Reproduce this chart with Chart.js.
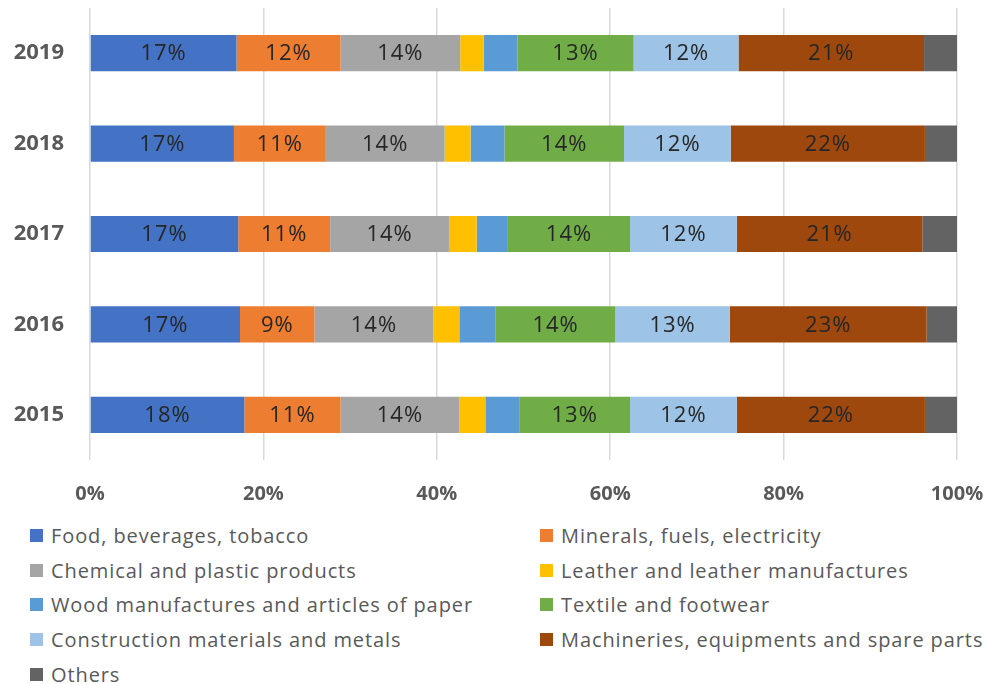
<!DOCTYPE html>
<html>
<head>
<meta charset="utf-8">
<script src="https://cdn.jsdelivr.net/npm/chart.js@4"></script>
<style>
    body { margin: 0; background: #fff; font-family: 'Open Sans', sans-serif; }
    #wrap { position: relative; width: 994px; height: 684px; }
    #chartBox { position: absolute; left: 0; top: 0; width: 994px; height: 504px; }
    #legend {
        position: absolute; left: 30px; top: 518px;
        display: grid; grid-template-columns: 510px 440px;
        grid-auto-rows: 34.7px; align-items: center;
    }
    .item { display: flex; align-items: center; color: #595959; font-size: 20px; letter-spacing: 0.9px; white-space: nowrap; }
    .box { width: 13px; height: 13px; margin-right: 8px; flex: none; }
</style>
</head>
<body>
<div id="wrap">
    <div id="chartBox"><canvas id="shareChart"></canvas></div>
    <div id="legend"></div>
</div>
<script>
// Data (top row first: 2019 -> 2015), shares in %
const years = ['2019', '2018', '2017', '2016', '2015'];
const food         = [16.9, 16.6, 17.1, 17.3, 17.8];
const minerals     = [12.0, 10.6, 10.6, 8.6, 11.1];
const chemical     = [13.8, 13.7, 13.7, 13.7, 13.7];
const leather      = [2.7, 3.0, 3.2, 3.0, 3.0];
const wood         = [3.9, 3.9, 3.6, 4.2, 3.9];
const textile      = [13.4, 13.8, 14.1, 13.8, 12.8];
const construction = [12.1, 12.3, 12.3, 13.2, 12.3];
const machinery    = [21.4, 22.4, 21.4, 22.7, 21.7];
const others       = [3.8, 3.7, 4.0, 3.5, 3.7];
const xTicks = [0, 20, 40, 60, 80, 100];

const seriesNames = [
    'Food, beverages, tobacco', 'Minerals, fuels, electricity',
    'Chemical and plastic products', 'Leather and leather manufactures',
    'Wood manufactures and articles of paper', 'Textile and footwear',
    'Construction materials and metals', 'Machineries, equipments and spare parts',
    'Others'
];
const seriesValues = [food, minerals, chemical, leather, wood, textile, construction, machinery, others];
const seriesColors = ['#4472C4', '#ED7D31', '#A5A5A5', '#FFC000', '#5B9BD5', '#70AD47', '#9DC3E6', '#9E480E', '#636363'];
const withLabels = [true, true, true, false, false, true, true, true, false];

// draws rounded % in the middle of each labelled segment
const barLabels = {
    id: 'barLabels',
    afterDatasetsDraw(chart) {
        const ctx = chart.ctx;
        ctx.save();
        ctx.font = '22px "Open Sans"';
        ctx.letterSpacing = '1px';
        ctx.fillStyle = '#262626';
        ctx.textAlign = 'center';
        ctx.textBaseline = 'middle';
        chart.data.datasets.forEach((ds, i) => {
            if (!withLabels[i]) return;
            chart.getDatasetMeta(i).data.forEach((bar, j) => {
                const p = bar.getCenterPoint();
                ctx.fillText(Math.round(ds.data[j]) + '%', p.x, p.y + 1);
            });
        });
        ctx.restore();
    }
};

function buildChart() {
    Chart.defaults.font.family = 'Open Sans';
    Chart.defaults.color = '#595959';

    const chart = new Chart(document.getElementById('shareChart'), {
        type: 'bar',
        data: {
            labels: years,
            datasets: seriesNames.map((name, i) => ({
                label: name,
                data: seriesValues[i],
                backgroundColor: seriesColors[i],
                borderWidth: 0,
                barPercentage: 0.4,
                categoryPercentage: 1
            }))
        },
        options: {
            indexAxis: 'y',
            responsive: true,
            maintainAspectRatio: false,
            animation: false,
            layout: { padding: { top: 8, right: 37, bottom: 0, left: 0 } },
            plugins: { legend: { display: false }, tooltip: { enabled: false } },
            scales: {
                x: {
                    stacked: true,
                    min: 0,
                    max: 100,
                    afterBuildTicks: axis => { axis.ticks = xTicks.map(v => ({ value: v })); },
                    ticks: {
                        callback: v => v + '%',
                        font: { size: 20, weight: 'bold' },
                        padding: 22,
                        maxRotation: 0
                    },
                    grid: { color: '#d9d9d9', lineWidth: 1.5, drawTicks: false },
                    border: { display: false },
                    afterFit: axis => {
                        axis.height = 44;
                        axis.paddingLeft = 0;
                        axis.paddingRight = 0;
                    }
                },
                y: {
                    stacked: true,
                    ticks: { font: { size: 22, weight: 'bold' }, padding: 26 },
                    grid: { display: false, drawTicks: false },
                    border: { display: false },
                    afterFit: axis => {
                        axis.width = 90;
                        axis.paddingTop = 0;
                        axis.paddingBottom = 0;
                    }
                }
            }
        },
        plugins: [barLabels]
    });

    // two-column legend, filled row by row like the original
    const legend = document.getElementById('legend');
    chart.data.datasets.forEach(ds => {
        const item = document.createElement('div');
        item.className = 'item';
        const box = document.createElement('span');
        box.className = 'box';
        box.style.background = ds.backgroundColor;
        item.appendChild(box);
        item.appendChild(document.createTextNode(ds.label));
        legend.appendChild(item);
    });
}

Promise.all([
    document.fonts.load('22px "Open Sans"'),
    document.fonts.load('bold 22px "Open Sans"')
]).then(buildChart, buildChart);
</script>
</body>
</html>
